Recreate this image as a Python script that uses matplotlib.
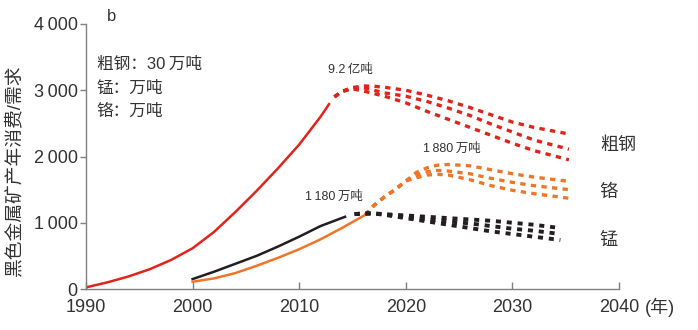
import matplotlib.pyplot as plt

plt.rcParams['font.family'] = ['Liberation Sans', 'Noto Sans CJK SC', 'DejaVu Sans']

# 历史数据（实线）
steel_years = [1990, 1992, 1994, 1996, 1998, 2000, 2002, 2004, 2006, 2008, 2010, 2012, 2012.8]
steel_vals = [25, 100, 190, 300, 440, 615, 860, 1160, 1480, 1820, 2180, 2600, 2790]

mn_years = [2000, 2002, 2004, 2006, 2008, 2010, 2012, 2014.3]
mn_vals = [150, 260, 380, 500, 640, 790, 950, 1090]

cr_years = [2000, 2002, 2004, 2006, 2008, 2010, 2012, 2014, 2016.2]
cr_vals = [110, 160, 240, 350, 470, 600, 750, 920, 1120]

# 预测数据（虚线，三种情景）
steel_f_years = [2013.3, 2014, 2015, 2016, 2017, 2018, 2020, 2022, 2024, 2026, 2028, 2030, 2032, 2035.3]
steel_f = [
    [2900, 2980, 3040, 3065, 3060, 3045, 3000, 2925, 2840, 2740, 2630, 2520, 2440, 2340],
    [2900, 2980, 3040, 3040, 3000, 2960, 2910, 2830, 2730, 2620, 2490, 2370, 2250, 2110],
    [2900, 2980, 3020, 2990, 2950, 2910, 2810, 2680, 2560, 2440, 2320, 2200, 2090, 1950],
]

cr_f_years = [2016.2, 2017, 2018, 2019, 2020, 2021, 2022, 2023, 2024, 2026, 2028, 2030, 2032, 2035.3]
cr_f = [
    [1120, 1260, 1390, 1500, 1630, 1760, 1830, 1870, 1880, 1860, 1800, 1740, 1690, 1625],
    [1120, 1260, 1390, 1500, 1630, 1720, 1770, 1790, 1780, 1740, 1670, 1610, 1560, 1500],
    [1120, 1260, 1390, 1500, 1630, 1680, 1720, 1730, 1720, 1650, 1560, 1490, 1440, 1370],
]

mn_f_years = [2015.2, 2016, 2017, 2018, 2020, 2022, 2024, 2026, 2028, 2030, 2032, 2034.5]
mn_f = [
    [1130, 1140, 1140, 1130, 1110, 1090, 1070, 1050, 1030, 1000, 970, 920],
    [1130, 1140, 1140, 1125, 1090, 1050, 1020, 990, 950, 910, 880, 830],
    [1130, 1140, 1140, 1120, 1070, 1020, 970, 920, 870, 830, 790, 740],
]

red = '#e2231a'
orange = '#ef7628'
black = '#231f20'
gray = '#333333'

fig = plt.figure(figsize=(6.98, 3.30), dpi=100)
ax = fig.add_axes([0.1232, 0.1242, 0.7636, 0.8031])

ax.plot(steel_years, steel_vals, color=red, lw=1.8)
ax.plot(mn_years, mn_vals, color=black, lw=1.8)
ax.plot(cr_years, cr_vals, color=orange, lw=1.8)

for vals in steel_f:
    ax.plot(steel_f_years, vals, color=red, lw=2.4, dashes=(1.6, 1.6))
for vals in cr_f:
    ax.plot(cr_f_years, vals, color=orange, lw=2.4, dashes=(1.6, 1.6))
for vals in mn_f:
    ax.plot(mn_f_years, vals, color=black, lw=2.8, dashes=(1.3, 1.5))

ax.set_xlim(1990, 2040)
ax.set_ylim(0, 4000)
ax.set_xticks([1990, 2000, 2010, 2020, 2030, 2040])
ax.set_yticks([0, 1000, 2000, 3000, 4000])
ax.set_yticklabels(['0', '1\u2009000', '2\u2009000', '3\u2009000', '4\u2009000'])

for s in ['top', 'right']:
    ax.spines[s].set_visible(False)
for s in ['left', 'bottom']:
    ax.spines[s].set_color('#808080')
    ax.spines[s].set_linewidth(1.0)

ax.tick_params(axis='y', direction='out', length=4, width=1.0, color='#808080',
               labelsize=13, labelcolor=gray, pad=2)
ax.tick_params(axis='x', direction='in', length=5, width=1.0, color='#808080',
               labelsize=13, labelcolor=gray, pad=7)

# 文字标注
ax.text(1992.4, 4120, 'b', fontsize=12, color=gray, ha='center', va='center', clip_on=False)
ax.text(1991.0, 3390, '粗钢：30\u2009万吨', fontsize=12, color=gray, va='center')
ax.text(1991.0, 3030, '锰：万吨', fontsize=12, color=gray, va='center')
ax.text(1991.0, 2680, '铬：万吨', fontsize=12, color=gray, va='center')

ax.text(2014.8, 3300, '9.2\u2009亿吨', fontsize=9, color=gray, ha='center', va='center')
ax.text(2024.3, 2110, '1\u2009880\u2009万吨', fontsize=9, color=gray, ha='center', va='center')
ax.text(2013.3, 1390, '1\u2009180\u2009万吨', fontsize=9, color=gray, ha='center', va='center')

ax.text(2038.2, 2170, '粗钢', fontsize=13, color=gray, va='center', clip_on=False)
ax.text(2038.2, 1453, '铬', fontsize=13, color=gray, va='center', clip_on=False)
ax.text(2038.2, 736, '锰', fontsize=13, color=gray, va='center', clip_on=False)

fig.text(645 / 698, 1 - 307 / 330, '(年)', fontsize=13, color=gray, ha='left', va='center')
fig.text(14 / 698, 1 - 170 / 330, '黑色金属矿产年消费/需求', fontsize=13.5, color=gray,
         rotation=90, ha='center', va='center')

fig.savefig('out.png', dpi=100)
